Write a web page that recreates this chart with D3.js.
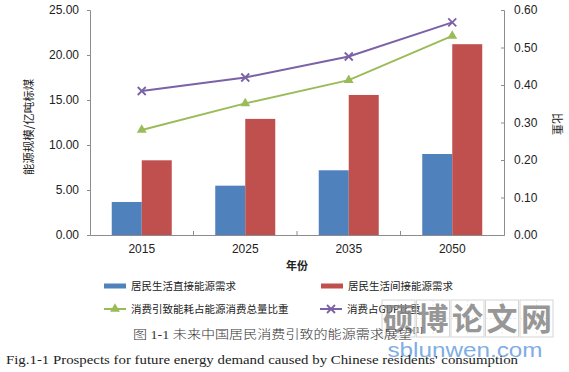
<!DOCTYPE html>
<html>
<head>
<meta charset="utf-8">
<script src="https://cdn.jsdelivr.net/npm/d3@7"></script>
<style>
  html, body { margin: 0; padding: 0; background: #fff; }
  svg { display: block; }
</style>
</head>
<body>
<svg id="chart" width="569" height="372"></svg>
<script>
// ---- data ----
const years = ["2015", "2025", "2035", "2050"];
const directDemand = [3.67, 5.48, 7.19, 9.0];      // 居民生活直接能源需求
const indirectDemand = [8.3, 12.9, 15.56, 21.2];   // 居民生活间接能源需求
const energyShare = [0.28, 0.351, 0.413, 0.531];   // 消费引致能耗占能源消费总量比重
const gdpShare = [0.384, 0.42, 0.476, 0.567];      // 消费占GDP比重
const leftTicks = [0, 5, 10, 15, 20, 25];
const rightTicks = [0, 0.1, 0.2, 0.3, 0.4, 0.5, 0.6];

const svg = d3.select("#chart");
const font = "Arial, 'Liberation Sans', 'Noto Sans CJK SC', sans-serif";
const cjk = "'Noto Sans CJK SC', 'Noto Sans', sans-serif";

const plot = { left: 90, right: 504, top: 10, bottom: 235 };

const x = d3.scaleBand().domain(years).range([plot.left, plot.right]).padding(0);
const yL = d3.scaleLinear().domain([0, 25]).range([plot.bottom, plot.top]);
const yR = d3.scaleLinear().domain([0, 0.6]).range([plot.bottom, plot.top]);
const barW = 30;

const colors = { blue: "#4f81bd", red: "#c0504d", green: "#9bbb59", purple: "#7b62a6", axis: "#8c8c8c" };

// bars
const g = svg.append("g");
g.selectAll("rect.direct").data(years).join("rect")
  .attr("x", d => x(d) + x.bandwidth() / 2 - barW)
  .attr("y", (d, i) => yL(directDemand[i]))
  .attr("width", barW)
  .attr("height", (d, i) => yL(0) - yL(directDemand[i]))
  .attr("fill", colors.blue);
g.selectAll("rect.indirect").data(years).join("rect")
  .attr("x", d => x(d) + x.bandwidth() / 2)
  .attr("y", (d, i) => yL(indirectDemand[i]))
  .attr("width", barW)
  .attr("height", (d, i) => yL(0) - yL(indirectDemand[i]))
  .attr("fill", colors.red);

// axes
const axL = d3.axisLeft(yL).tickValues(leftTicks).tickFormat(d3.format(".2f")).tickSize(3).tickPadding(8);
const axR = d3.axisRight(yR).tickValues(rightTicks).tickFormat(d3.format(".2f")).tickSize(-3).tickPadding(10);
const gl = svg.append("g").attr("transform", `translate(${plot.left},0)`).call(axL);
const gr = svg.append("g").attr("transform", `translate(${plot.right},0)`).call(axR);
[gl, gr].forEach(a => {
  a.select(".domain").attr("stroke", colors.axis);
  a.selectAll(".tick line").attr("stroke", colors.axis);
  a.selectAll(".tick text").attr("font-family", font).attr("font-size", 12).attr("fill", "#222");
});

// x axis
const axB = d3.axisBottom(x).tickSize(0).tickPadding(9);
const gb = svg.append("g").attr("transform", `translate(0,${plot.bottom})`).call(axB);
gb.select(".domain").attr("stroke", colors.axis);
gb.selectAll(".tick text").attr("font-family", font).attr("font-size", 12).attr("fill", "#222");
svg.append("g").selectAll("line").data(years.slice(1)).join("line")
  .attr("x1", d => x(d)).attr("x2", d => x(d))
  .attr("y1", plot.bottom - 4).attr("y2", plot.bottom)
  .attr("stroke", colors.axis);

// lines
function triangle(sel, cx, cy, color) {
  sel.append("path").attr("d", d3.symbol().type(d3.symbolTriangle).size(42)())
    .attr("transform", `translate(${cx},${cy})`).attr("fill", color);
}
function cross(sel, cx, cy, color) {
  const s = 4;
  sel.append("path").attr("d", `M${cx - s},${cy - s}L${cx + s},${cy + s}M${cx - s},${cy + s}L${cx + s},${cy - s}`)
    .attr("stroke", color).attr("stroke-width", 1.8).attr("fill", "none");
}
const cxs = years.map(d => x(d) + x.bandwidth() / 2);
const line = d3.line().x((d, i) => cxs[i]).y(d => yR(d));
svg.append("path").datum(energyShare).attr("d", line).attr("fill", "none").attr("stroke", colors.green).attr("stroke-width", 2);
svg.append("path").datum(gdpShare).attr("d", line).attr("fill", "none").attr("stroke", colors.purple).attr("stroke-width", 2);
energyShare.forEach((v, i) => triangle(svg, cxs[i], yR(v), colors.green));
gdpShare.forEach((v, i) => cross(svg, cxs[i], yR(v), colors.purple));

// axis titles
svg.append("text").attr("transform", "translate(33,127) rotate(-90)")
  .attr("text-anchor", "middle").attr("font-family", cjk).attr("font-size", 11.5).attr("fill", "#222")
  .text("能源规模/亿吨标煤");
svg.append("text").attr("transform", "translate(553,124) rotate(90)")
  .attr("text-anchor", "middle").attr("font-family", cjk).attr("font-size", 11).attr("fill", "#222")
  .text("比重");
svg.append("text").attr("x", (plot.left + plot.right) / 2 + 0).attr("y", 270)
  .attr("text-anchor", "middle").attr("font-family", cjk).attr("font-size", 11).attr("font-weight", "bold").attr("fill", "#222")
  .text("年份");

// legend
const legend = [
  { label: "居民生活直接能源需求", type: "bar", color: colors.blue, x: 104, y: 286 },
  { label: "居民生活间接能源需求", type: "bar", color: colors.red, x: 321, y: 286 },
  { label: "消费引致能耗占能源消费总量比重", type: "tri", color: colors.green, x: 104, y: 309 },
  { label: "消费占GDP比重", type: "cross", color: colors.purple, x: 320, y: 309 }
];
const lg = svg.append("g");
legend.forEach(it => {
  if (it.type === "bar") {
    lg.append("rect").attr("x", it.x).attr("y", it.y - 2.5).attr("width", 22).attr("height", 5).attr("fill", it.color);
  } else {
    lg.append("line").attr("x1", it.x).attr("x2", it.x + 22).attr("y1", it.y).attr("y2", it.y)
      .attr("stroke", it.color).attr("stroke-width", 2);
    if (it.type === "tri") triangle(lg, it.x + 11, it.y, it.color);
    else cross(lg, it.x + 11, it.y, it.color);
  }
  lg.append("text").attr("x", it.x + 27).attr("y", it.y).attr("dy", "0.36em")
    .attr("font-family", cjk).attr("font-size", 10.5).attr("fill", "#222").text(it.label);
});

// watermark
const wm = svg.append("g").attr("opacity", 0.85);
const wmChars = ["硕", "博", "论", "文", "网"];
wmChars.forEach((c, i) => {
  const bx = 382 + i * 34.5;
  wm.append("rect").attr("x", bx).attr("y", 300).attr("width", 33).attr("height", 37)
    .attr("fill", "none").attr("stroke", "#cfcfcf").attr("stroke-width", 1);
  wm.append("line").attr("x1", bx + 16.5).attr("x2", bx + 16.5).attr("y1", 300).attr("y2", 337)
    .attr("stroke", "#e2e2e2").attr("stroke-dasharray", "2,2");
  wm.append("line").attr("x1", bx).attr("x2", bx + 33).attr("y1", 318.5).attr("y2", 318.5)
    .attr("stroke", "#e2e2e2").attr("stroke-dasharray", "2,2");
  wm.append("text").attr("x", bx + 16.5).attr("y", 330).attr("text-anchor", "middle")
    .attr("font-family", cjk).attr("font-size", 31).attr("font-weight", "bold").attr("fill", "#858585").text(c);
});

// captions
svg.append("text").attr("x", 133).attr("y", 339)
  .attr("font-family", "'Liberation Serif', 'Noto Sans CJK SC', serif").attr("font-size", 12)
  .attr("font-weight", 300).attr("fill", "#333")
  .attr("textLength", 279).attr("lengthAdjust", "spacingAndGlyphs")
  .text("图 1-1 未来中国居民消费引致的能源需求展望");
svg.append("text").attr("x", 413).attr("y", 333)
  .attr("font-family", "'Liberation Serif', serif").attr("font-size", 8).attr("fill", "#333").text("[1]");

wm.append("text").attr("x", 465).attr("y", 357).attr("text-anchor", "middle")
  .attr("font-family", "Arial, 'Liberation Sans', sans-serif").attr("font-size", 21).attr("fill", "#6a9fe0")
  .attr("textLength", 155).attr("lengthAdjust", "spacingAndGlyphs").text("sblunwen.com");

svg.append("text").attr("x", 6).attr("y", 364)
  .attr("font-family", "'Liberation Serif', 'Times New Roman', serif").attr("font-size", 13).attr("fill", "#222")
  .attr("textLength", 512).attr("lengthAdjust", "spacingAndGlyphs")
  .text("Fig.1-1 Prospects for future energy demand caused by Chinese residents' consumption");
</script>
</body>
</html>
